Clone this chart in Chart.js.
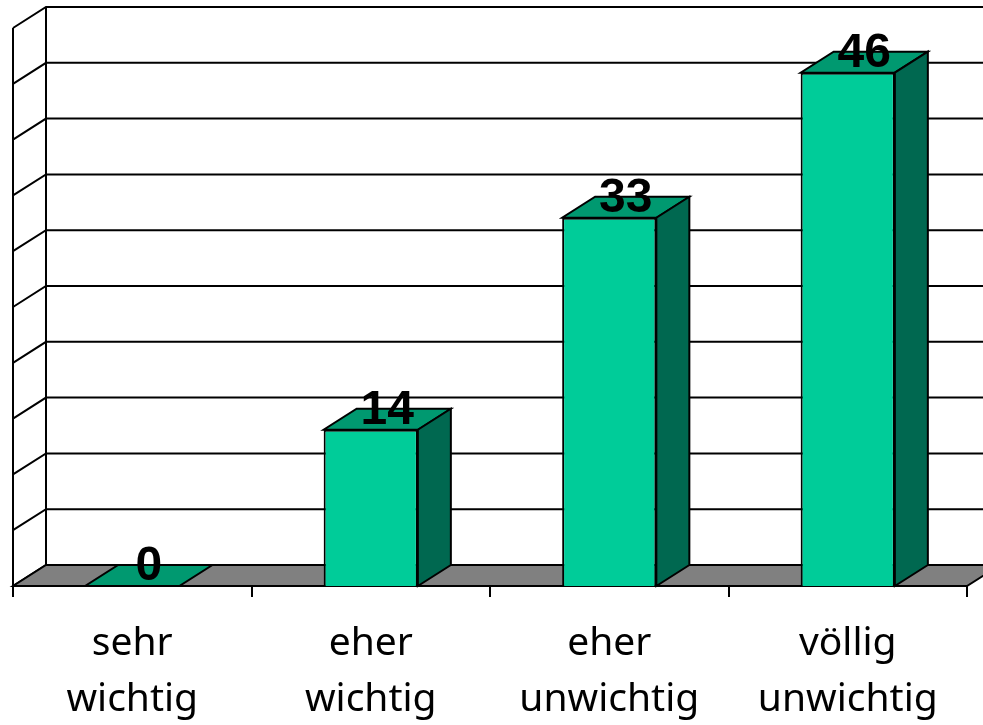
<!DOCTYPE html>
<html>
<head>
<meta charset="utf-8">
<title>Wichtigkeit</title>
<script src="https://cdn.jsdelivr.net/npm/chart.js@4"></script>
<style>
  html, body { margin: 0; padding: 0; background: #fff; }
  #wrap { width: 983px; height: 725px; position: relative; }
</style>
</head>
<body>
<div id="wrap"><canvas id="chart"></canvas></div>
<script>
const categories = [["sehr", "wichtig"], ["eher", "wichtig"], ["eher", "unwichtig"], ["völlig", "unwichtig"]];
const values = [0, 14, 33, 46];
const gridTicks = [0, 5, 10, 15, 20, 25, 30, 35, 40, 45, 50];

// depth offset of the back plane
const DX = 33;
const DY = -21;

const FRONT = "#00CC99";
const TOP = "#009970";
const SIDE = "#006850";
const FLOOR = "#808080";

function poly(ctx, pts, fill) {
  ctx.beginPath();
  ctx.moveTo(pts[0][0], pts[0][1]);
  for (let i = 1; i < pts.length; i++) ctx.lineTo(pts[i][0], pts[i][1]);
  ctx.closePath();
  if (fill) {
    ctx.fillStyle = fill;
    ctx.fill();
  }
  ctx.stroke();
}

const box3d = {
  id: "box3d",
  beforeDatasetsDraw(chart) {
    const { ctx, chartArea: a, scales } = chart;
    const y = scales.y;
    ctx.save();
    ctx.strokeStyle = "#000";
    ctx.lineWidth = 2;
    ctx.lineJoin = "miter";

    // walls and gridlines
    gridTicks.forEach((v) => {
      const py = y.getPixelForValue(v);
      ctx.beginPath();
      ctx.moveTo(a.left, py);
      ctx.lineTo(a.left + DX, py + DY);
      ctx.lineTo(a.right + DX, py + DY);
      ctx.stroke();
    });
    ctx.beginPath();
    ctx.moveTo(a.left, a.bottom);
    ctx.lineTo(a.left, a.top);
    ctx.moveTo(a.left + DX, a.bottom + DY);
    ctx.lineTo(a.left + DX, a.top + DY);
    ctx.stroke();

    // floor
    const b = y.getPixelForValue(0);
    poly(ctx, [[a.left, b], [a.right, b], [a.right + DX, b + DY], [a.left + DX, b + DY]], FLOOR);

    // category tick marks below the floor
    const x = scales.x;
    const step = (a.right - a.left) / categories.length;
    ctx.beginPath();
    for (let i = 0; i <= categories.length; i++) {
      const px = Math.round(a.left + i * step);
      ctx.moveTo(px, b);
      ctx.lineTo(px, b + 11);
    }
    ctx.stroke();

    // category labels
    ctx.fillStyle = "#000";
    ctx.font = "39px 'Noto Sans'";
    ctx.textAlign = "center";
    ctx.textBaseline = "alphabetic";
    categories.forEach((lines, i) => {
      const px = x.getPixelForValue(i);
      lines.forEach((t, k) => ctx.fillText(t, px, 655 + k * 56));
    });
    ctx.restore();
  },
  afterDatasetsDraw(chart) {
    const { ctx } = chart;
    const meta = chart.getDatasetMeta(0);
    ctx.save();
    ctx.strokeStyle = "#000";
    ctx.lineWidth = 2;
    meta.data.forEach((bar, i) => {
      const p = bar.getProps(["x", "y", "base", "width"], true);
      const L = p.x - p.width / 2;
      const R = p.x + p.width / 2;
      const T = p.y;
      const B = p.base;
      poly(ctx, [[L, T], [R, T], [R + DX, T + DY], [L + DX, T + DY]], TOP);
      if (B - T > 0.5) {
        poly(ctx, [[R, T], [R + DX, T + DY], [R + DX, B + DY], [R, B]], SIDE);
      }
    });
    // value labels
    ctx.fillStyle = "#000";
    ctx.font = "bold 48px 'Liberation Sans'";
    ctx.textAlign = "center";
    ctx.textBaseline = "alphabetic";
    meta.data.forEach((bar, i) => {
      const p = bar.getProps(["x", "y"], true);
      ctx.fillText(String(values[i]), p.x + DX / 2, p.y - 6);
    });
    ctx.restore();
  }
};

new Chart(document.getElementById("chart").getContext("2d"), {
  type: "bar",
  data: {
    labels: categories,
    datasets: [
      {
        data: values,
        backgroundColor: FRONT,
        borderColor: "#000",
        borderWidth: 2,
        borderSkipped: "start",
        barPercentage: 0.395,
        categoryPercentage: 1
      }
    ]
  },
  options: {
    responsive: true,
    maintainAspectRatio: false,
    animation: false,
    layout: { padding: { left: 13, right: 16, top: 28, bottom: 139 } },
    plugins: {
      legend: { display: false },
      tooltip: { enabled: false },
      title: { display: false }
    },
    scales: {
      x: { display: false },
      y: { display: false, min: 0, max: 50, ticks: { stepSize: 5 } }
    }
  },
  plugins: [box3d]
});
</script>
</body>
</html>
